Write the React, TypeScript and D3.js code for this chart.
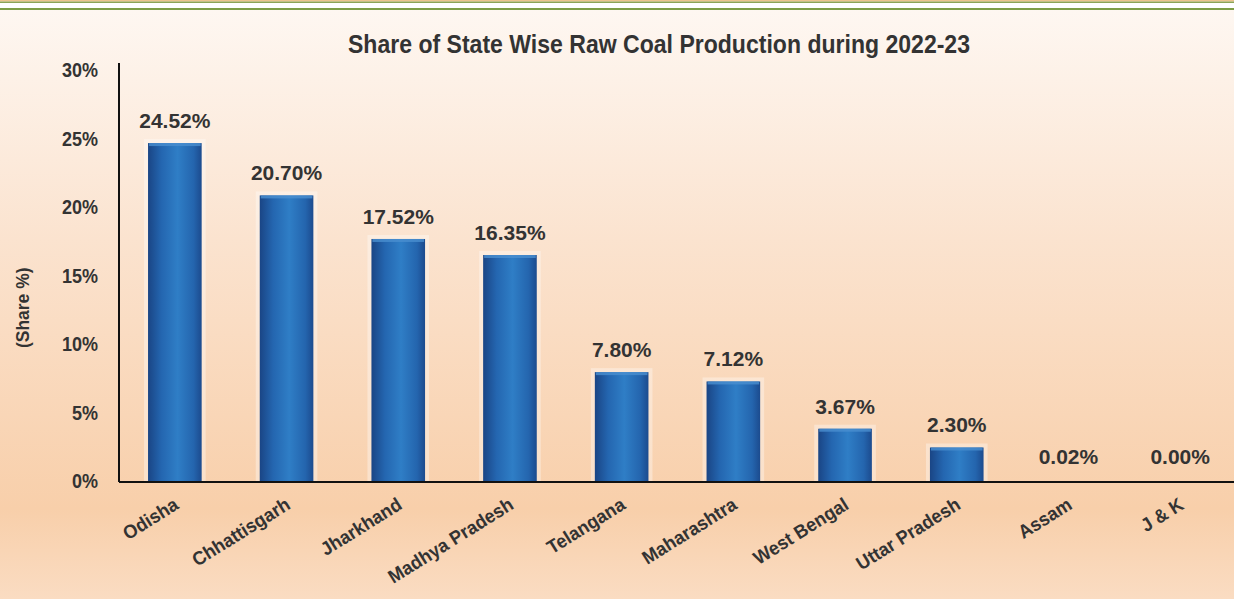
import * as d3 from "d3";
import { useEffect, useRef } from "react";

const states = [
  "Odisha",
  "Chhattisgarh",
  "Jharkhand",
  "Madhya Pradesh",
  "Telangana",
  "Maharashtra",
  "West Bengal",
  "Uttar Pradesh",
  "Assam",
  "J & K",
];
const shares = [24.52, 20.7, 17.52, 16.35, 7.8, 7.12, 3.67, 2.3, 0.02, 0.0];
const yTicks = [0, 5, 10, 15, 20, 25, 30];

const W = 1234;
const H = 599;
const FONT = "'Liberation Sans', Arial, sans-serif";

// squeeze text horizontally so it looks like the condensed face of the original
function condense(sel: d3.Selection<any, any, any, any>, factor: number) {
  sel.each(function () {
    const el = this as SVGTextElement;
    const len = el.getComputedTextLength();
    d3.select(el)
      .attr("textLength", len * factor)
      .attr("lengthAdjust", "spacingAndGlyphs");
  });
}

export default function App() {
  const ref = useRef<SVGSVGElement | null>(null);

  useEffect(() => {
    const svg = d3.select(ref.current);
    svg.selectAll("*").remove();

    const margin = { top: 70, right: 0, bottom: 118, left: 119 };
    const height = H - margin.top - margin.bottom;

    const defs = svg.append("defs");
    const bg = defs.append("linearGradient").attr("id", "bg").attr("x1", 0).attr("x2", 0).attr("y1", 0).attr("y2", 1);
    bg.append("stop").attr("offset", "0%").attr("stop-color", "#fef8f3");
    bg.append("stop").attr("offset", "40%").attr("stop-color", "#fbe3cf");
    bg.append("stop").attr("offset", "85%").attr("stop-color", "#f8cfaa");
    bg.append("stop").attr("offset", "100%").attr("stop-color", "#fadcc2");

    const barGrad = defs.append("linearGradient").attr("id", "bar").attr("x1", 0).attr("x2", 1).attr("y1", 0).attr("y2", 0);
    barGrad.append("stop").attr("offset", "0%").attr("stop-color", "#1a4585");
    barGrad.append("stop").attr("offset", "25%").attr("stop-color", "#2466b0");
    barGrad.append("stop").attr("offset", "55%").attr("stop-color", "#2f7ec6");
    barGrad.append("stop").attr("offset", "85%").attr("stop-color", "#2465ae");
    barGrad.append("stop").attr("offset", "100%").attr("stop-color", "#1c4b8e");

    // page background and top rules
    svg.append("rect").attr("width", W).attr("height", H).attr("fill", "url(#bg)");
    svg.append("rect").attr("y", 0).attr("width", W).attr("height", 1.5).attr("fill", "#ecc48c");
    svg.append("rect").attr("y", 1.5).attr("width", W).attr("height", 1.5).attr("fill", "#8ca456");
    svg.append("rect").attr("y", 3).attr("width", W).attr("height", 5).attr("fill", "#ffffff");
    svg.append("rect").attr("y", 8).attr("width", W).attr("height", 2).attr("fill", "#7e9e46");

    // title
    const title = svg.append("text")
      .attr("x", 659)
      .attr("y", 53)
      .attr("text-anchor", "middle")
      .attr("font-family", FONT)
      .attr("font-weight", "bold")
      .attr("font-size", 26)
      .attr("fill", "#333")
      .text("Share of State Wise Raw Coal Production during 2022-23");
    title.attr("textLength", 622).attr("lengthAdjust", "spacingAndGlyphs");

    const x = d3.scaleBand()
      .domain(states)
      .range([margin.left, margin.left + 111.7 * states.length])
      .paddingInner(0.52)
      .paddingOuter(0.26);

    const y = d3.scaleLinear()
      .domain([0, 30])
      .range([margin.top + height, margin.top]);

    // y labels
    const ticks = svg.append("g")
      .selectAll("text")
      .data(yTicks)
      .join("text")
      .attr("x", 98)
      .attr("y", d => y(d))
      .attr("dy", "0.36em")
      .attr("text-anchor", "end")
      .attr("font-family", FONT)
      .attr("font-weight", "bold")
      .attr("font-size", 20)
      .attr("fill", "#333")
      .text(d => d + "%");
    condense(ticks, 0.9);

    const yTitle = svg.append("text")
      .attr("transform", `translate(29, ${y(12.5) - 2}) rotate(-90)`)
      .attr("text-anchor", "middle")
      .attr("font-family", FONT)
      .attr("font-weight", "bold")
      .attr("font-size", 19)
      .attr("fill", "#333")
      .text("(Share %)");
    condense(yTitle, 0.92);

    // bars
    const bars = svg.append("g")
      .selectAll("g")
      .data(states)
      .join("g");

    bars.append("rect")
      .attr("x", d => x(d)! - 4)
      .attr("y", (d, i) => y(shares[i]) - 6)
      .attr("width", x.bandwidth() + 8)
      .attr("height", (d, i) => y(0) - y(shares[i]) + 6)
      .attr("fill", "#fff")
      .attr("opacity", (d, i) => (shares[i] > 0.5 ? 0.35 : 0));

    bars.append("rect")
      .attr("x", d => x(d)!)
      .attr("y", (d, i) => y(shares[i]) - 2)
      .attr("width", x.bandwidth())
      .attr("height", (d, i) => Math.max(0, y(0) - y(shares[i]) + 2))
      .attr("fill", "url(#bar)")
      .attr("opacity", (d, i) => (shares[i] > 0.5 ? 1 : 0));

    bars.append("rect")
      .attr("x", d => x(d)! + 1)
      .attr("y", (d, i) => y(shares[i]) - 2)
      .attr("width", x.bandwidth() - 2)
      .attr("height", 3)
      .attr("fill", "#4a8fd0")
      .attr("opacity", (d, i) => (shares[i] > 0.5 ? 0.8 : 0));

    // value labels
    svg.append("g")
      .selectAll("text")
      .data(states)
      .join("text")
      .attr("x", d => x(d)! + x.bandwidth() / 2)
      .attr("y", (d, i) => y(shares[i]) - 17)
      .attr("text-anchor", "middle")
      .attr("font-family", FONT)
      .attr("font-weight", "bold")
      .attr("font-size", 21)
      .attr("fill", "#333")
      .text((d, i) => shares[i].toFixed(2) + "%");

    // axes lines
    svg.append("line")
      .attr("x1", margin.left).attr("x2", margin.left)
      .attr("y1", margin.top - 7).attr("y2", y(0) + 1)
      .attr("stroke", "#111").attr("stroke-width", 2);
    svg.append("line")
      .attr("x1", margin.left).attr("x2", W)
      .attr("y1", y(0) + 1).attr("y2", y(0) + 1)
      .attr("stroke", "#111").attr("stroke-width", 2);

    // category labels
    const cats = svg.append("g")
      .selectAll("text")
      .data(states)
      .join("text")
      .attr("transform", d => `translate(${x(d)! + x.bandwidth() / 2 + 5}, ${y(0) + 27}) rotate(-32)`)
      .attr("text-anchor", "end")
      .attr("font-family", FONT)
      .attr("font-weight", "bold")
      .attr("font-size", 19)
      .attr("fill", "#333")
      .text(d => d);
    condense(cats, 0.95);
  }, []);

  return (
    <svg
      ref={ref}
      width={W}
      height={H}
      style={{ position: "absolute", left: 0, top: 0, display: "block" }}
    />
  );
}
